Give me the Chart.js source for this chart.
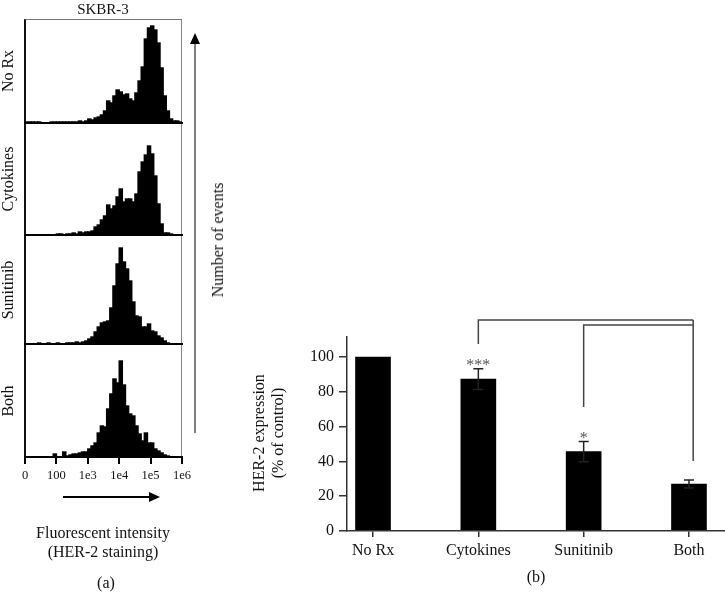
<!DOCTYPE html>
<html><head><meta charset="utf-8">
<script src="https://cdn.jsdelivr.net/npm/chart.js@4"></script>
<style>
html,body{margin:0;padding:0;background:#fff;}
#root{position:relative;width:725px;height:592px;overflow:hidden;font-family:"Liberation Serif","DejaVu Serif",serif;color:#111;}
canvas.full{position:absolute;left:0;top:0;}
.t{position:absolute;white-space:nowrap;transform:translate(-50%,-50%);font-size:16px;line-height:1;}
.r{transform:translate(-50%,-50%) rotate(-90deg);}
#frame{position:absolute;left:24px;top:19px;width:158px;height:438px;box-sizing:border-box;border-top:1px solid #777;border-right:1px solid #888;border-left:2px solid #111;}
svg{position:absolute;left:0;top:0;}
</style></head>
<body><div id="root">
<div id="frame"></div>
<svg width="725" height="592">
  <line x1="195" y1="433" x2="195" y2="42" stroke="#555" stroke-width="1.5"/>
  <polygon points="195,33 190,44 200,44" fill="#000"/>
  <line x1="63" y1="497" x2="151" y2="497" stroke="#000" stroke-width="2"/>
  <polygon points="160,497 149,492 149,502" fill="#000"/>
</svg>
</div>
<script>
// ---------- data ----------
const histLabels = ["No Rx", "Cytokines", "Sunitinib", "Both"];
const fluorTickLabels = ["0", "100", "1e3", "1e4", "1e5", "1e6"];
const binWidth = 0.1; // decades per histogram bin
const countsNoRx = [1,1,1,1,1,0,0,0,1,1, 1,1,1,1,1,1,1,2,1,2, 4,3,5,6,8,12,22,20,27,33, 31,28,29,24,22,30,42,56,84,95, 97,93,80,55,27,12,4,2,2,1];
const countsCytokines = [0,0,0,0,0,0,0,0,0,0, 1,1,0,1,1,2,1,3,2,3, 3,4,8,10,15,19,30,26,29,38, 46,33,36,36,33,41,63,73,80,89, 81,59,31,11,2,2,1,0,0,0];
const countsSunitinib = [0,0,0,0,1,0,0,1,0,0, 1,0,0,1,1,1,2,1,2,3, 5,7,12,17,21,22,23,36,58,80, 96,82,75,63,42,28,27,17,17,20, 13,12,8,6,3,1,0,0,0,0];
const countsBoth = [0,0,0,0,0,0,0,0,0,3, 0,0,5,1,2,3,3,4,5,5, 8,11,14,24,31,30,48,63,78,74, 96,72,51,43,41,31,23,16,24,14, 14,8,6,4,2,1,0,0,0,0];

const groups = ["No Rx", "Cytokines", "Sunitinib", "Both"];
const expression = [100, 87.3, 45.6, 27.0];
const errorSem = [0, 6.0, 5.8, 2.3];
const significance = ["", "***", "*", ""];
const yTicks = [0, 20, 40, 60, 80, 100];
const bracketStarts = [1, 2];
const bracketStartBottoms = [107.5, 71.3];
const bracketTops = [121.3, 118.4];
const bracketEnd = 3.04;
const bracketEndBottom = 40.2;

// ---------- layout ----------
const W = 725, H = 592;
const FONT = "'Liberation Serif','DejaVu Serif',serif";
const root = document.getElementById('root');
const histCounts = [countsNoRx, countsCytokines, countsSunitinib, countsBoth];
const panelEdges = [19, 123, 235, 344, 457];
const histLeft = 25, histRight = 182;

function addText(txt, x, y, rot, size, extra) {
  const d = document.createElement('div');
  d.className = 't' + (rot ? ' r' : '');
  d.textContent = txt;
  d.style.left = x + 'px'; d.style.top = y + 'px';
  if (size) d.style.fontSize = size + 'px';
  if (extra) Object.assign(d.style, extra);
  root.appendChild(d);
}
function newCanvas() {
  const c = document.createElement('canvas');
  c.width = W; c.height = H; c.className = 'full';
  root.appendChild(c);
  return c;
}

histCounts.forEach((counts, k) => {
  const top = panelEdges[k], bottom = panelEdges[k + 1];
  const showAxis = k === histCounts.length - 1;
  const axisH = showAxis ? 40 : 0;
  new Chart(newCanvas(), {
    type: 'bar',
    data: { datasets: [{
      data: counts.map((c, i) => ({ x: (i + 0.5) * binWidth, y: c })),
      backgroundColor: '#000', borderWidth: 0, inflateAmount: 0.7,
      categoryPercentage: 1, barPercentage: 1
    }]},
    options: {
      responsive: false, animation: false, events: [],
      layout: { padding: { left: histLeft, right: W - histRight, top: top, bottom: H - bottom - axisH } },
      plugins: { legend: { display: false }, tooltip: { enabled: false } },
      scales: {
        x: {
          type: 'linear', min: 0, max: fluorTickLabels.length - 1, offset: false,
          afterFit: s => { s.height = axisH; },
          afterBuildTicks: s => { s.ticks = fluorTickLabels.map((_, j) => ({ value: j })); },
          grid: { display: showAxis, offset: false, drawOnChartArea: false, tickLength: 7, color: '#000', lineWidth: 2 },
          border: { display: true, color: '#000', width: 2, z: 1 },
          ticks: { display: showAxis, autoSkip: false, maxRotation: 0, padding: 4, color: '#111',
                   font: { family: FONT, size: 12.5 }, callback: (v, j) => fluorTickLabels[j] }
        },
        y: { display: false, min: 0, max: bottom - top }
      }
    }
  });
  addText(histLabels[k], 8, (top + bottom) / 2, true, 16);
});

// ---------- panel (b) ----------
const annot = {
  id: 'annot',
  afterDatasetsDraw(chart) {
    const { ctx, scales: { x, y } } = chart;
    ctx.save();
    ctx.strokeStyle = '#222'; ctx.lineWidth = 1.5;
    expression.forEach((v, i) => {
      if (!errorSem[i]) return;
      const px = x.getPixelForValue(i);
      const t = y.getPixelForValue(v + errorSem[i]), b = y.getPixelForValue(v - errorSem[i]);
      ctx.beginPath();
      ctx.moveTo(px, t); ctx.lineTo(px, b);
      ctx.moveTo(px - 5, t); ctx.lineTo(px + 5, t);
      ctx.moveTo(px - 5, b); ctx.lineTo(px + 5, b);
      ctx.stroke();
    });
    ctx.fillStyle = '#555'; ctx.font = '16px ' + FONT;
    ctx.textAlign = 'center'; ctx.textBaseline = 'alphabetic';
    significance.forEach((s, i) => {
      if (!s) return;
      ctx.fillText(s, x.getPixelForValue(i), y.getPixelForValue(expression[i] + errorSem[i]) + 1);
    });
    ctx.strokeStyle = '#444'; ctx.lineWidth = 1.5;
    bracketStarts.forEach((g, k) => {
      ctx.beginPath();
      ctx.moveTo(x.getPixelForValue(g), y.getPixelForValue(bracketStartBottoms[k]));
      ctx.lineTo(x.getPixelForValue(g), y.getPixelForValue(bracketTops[k]));
      ctx.lineTo(x.getPixelForValue(bracketEnd), y.getPixelForValue(bracketTops[k]));
      ctx.stroke();
    });
    ctx.beginPath();
    ctx.moveTo(x.getPixelForValue(bracketEnd), y.getPixelForValue(Math.max(...bracketTops)));
    ctx.lineTo(x.getPixelForValue(bracketEnd), y.getPixelForValue(bracketEndBottom));
    ctx.stroke();
    ctx.restore();
  }
};

const yAxisW = 50, xAxisH = 30;
new Chart(newCanvas(), {
  type: 'bar',
  data: { datasets: [{
    data: expression.map((v, i) => ({ x: i, y: v })),
    backgroundColor: '#000', borderWidth: 0, barThickness: 35
  }]},
  options: {
    responsive: false, animation: false, events: [],
    layout: { padding: { left: 347 - yAxisW, right: 0, top: 337, bottom: H - 531 - xAxisH } },
    plugins: { legend: { display: false }, tooltip: { enabled: false } },
    scales: {
      x: {
        type: 'linear', min: -0.247, max: 3.342, offset: false,
        afterFit: s => { s.height = xAxisH; },
        afterBuildTicks: s => { s.ticks = groups.map((_, j) => ({ value: j })); },
        grid: { display: true, offset: false, drawOnChartArea: false, tickLength: 6, color: '#333', lineWidth: 1.5 },
        border: { display: true, color: '#333', width: 1.5, z: 1 },
        ticks: { autoSkip: false, maxRotation: 0, padding: 4, color: '#111',
                 font: { family: FONT, size: 16 }, callback: (v, j) => groups[j] }
      },
      y: {
        type: 'linear', min: 0, max: 111.5,
        afterFit: s => { s.width = yAxisW; },
        afterBuildTicks: s => { s.ticks = yTicks.map(v => ({ value: v })); },
        grid: { display: true, drawOnChartArea: false, tickLength: 8, color: '#333', lineWidth: 1.5 },
        border: { display: true, color: '#333', width: 1.5, z: 1 },
        ticks: { padding: 5, color: '#111', font: { family: FONT, size: 16 } }
      }
    }
  },
  plugins: [annot]
});

// ---------- text ----------
addText('SKBR-3', 103, 9, false, 15);
addText('Number of events', 218, 240, true, 16);
addText('Fluorescent intensity', 103, 533, false, 16);
addText('(HER-2 staining)', 103, 552, false, 16);
addText('(a)', 106, 583, false, 16);
addText('HER-2 expression', 259, 433, true, 16);
addText('(% of control)', 278, 433, true, 16);
addText('(b)', 536, 577, false, 16);
</script>
</body></html>
